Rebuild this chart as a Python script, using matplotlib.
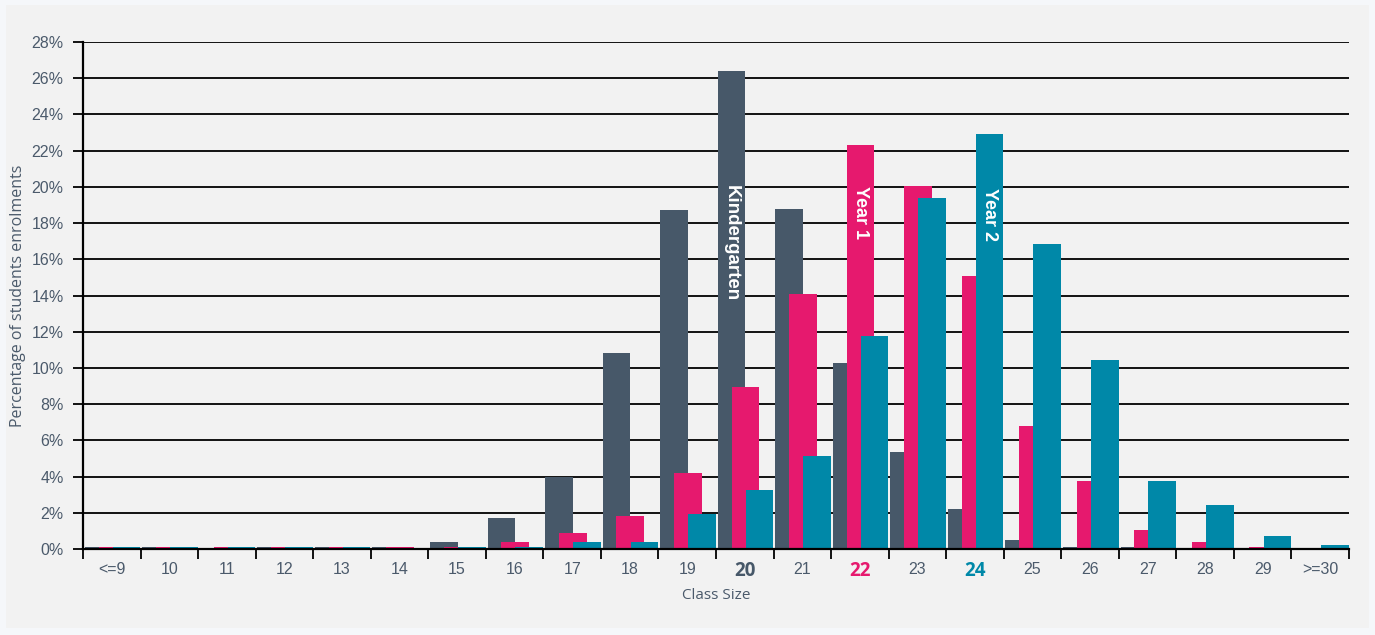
import numpy as np
import matplotlib.pyplot as plt
from matplotlib.patches import Rectangle

categories = ['<=9', '10', '11', '12', '13', '14', '15', '16', '17', '18', '19',
              '20', '21', '22', '23', '24', '25', '26', '27', '28', '29', '>=30']
kindergarten = [0.1, 0.1, 0.0, 0.1, 0.1, 0.1, 0.4, 1.73, 4.0, 10.83, 18.73,
                26.4, 18.78, 10.28, 5.34, 2.21, 0.5, 0.13, 0.1, 0.0, 0.0, 0.0]
year1 = [0.1, 0.1, 0.1, 0.1, 0.1, 0.1, 0.1, 0.4, 0.88, 1.84, 4.2,
         8.95, 14.09, 22.3, 20.06, 15.1, 6.78, 3.74, 1.07, 0.4, 0.1, 0.0]
year2 = [0.1, 0.1, 0.1, 0.1, 0.1, 0.0, 0.1, 0.1, 0.4, 0.4, 1.93,
         3.26, 5.16, 11.77, 19.39, 22.93, 16.85, 10.44, 3.74, 2.41, 0.7, 0.22]
yticks = list(range(0, 29, 2))

c_k = '#475869'
c_y1 = '#e6196e'
c_y2 = '#0088a8'
txt = '#4b5a6b'

W, H = 1375, 635
fig = plt.figure(figsize=(W / 100, H / 100), dpi=100)
fig.patch.set_facecolor('#f5f7fa')
fig.patches.append(Rectangle((6 / W, 1 - 628 / H), 1363 / W, 623 / H,
                             transform=fig.transFigure, facecolor='#f2f2f2',
                             edgecolor='none', zorder=-10))

ax = fig.add_axes([83 / W, 1 - 549 / H, 1266 / W, 507 / H])
ax.set_facecolor('none')

x = np.arange(len(categories))
bw = 0.48
ax.bar(x - 0.23, kindergarten, bw, color=c_k, zorder=3)
ax.bar(x + 0.01, year1, bw, color=c_y1, zorder=4)
ax.bar(x + 0.255, year2, bw, color=c_y2, zorder=5)

ax.set_xlim(-0.5, len(categories) - 0.5)
ax.set_ylim(0, 28)

# gridlines
ax.set_yticks(yticks)
ax.set_yticklabels([f'{v}%' for v in yticks], fontsize=11.5, color=txt,
                   family='Liberation Sans')
ax.yaxis.grid(True, color='black', linewidth=1.3, zorder=1)
ax.set_axisbelow(True)
ax.tick_params(axis='y', length=7, width=1.3, color='black', pad=7)

# x ticks at boundaries, labels at centres
ax.set_xticks(np.arange(-0.5, len(categories), 1.0))
ax.set_xticklabels([])
ax.set_xticks(x, minor=True)
ax.set_xticklabels(categories, minor=True, fontsize=11.5, color=txt,
                   family='Liberation Sans')
ax.tick_params(axis='x', which='major', length=7, width=1.3, color='black')
ax.tick_params(axis='x', which='minor', length=0, pad=9)

bold = {'20': c_k, '22': c_y1, '24': c_y2}
for lab in ax.get_xticklabels(minor=True):
    if lab.get_text() in bold:
        lab.set_color(bold[lab.get_text()])
        lab.set_fontweight('bold')
        lab.set_fontsize(13.5)
        lab.set_family('Open Sans')

for s in ['top', 'right']:
    ax.spines[s].set_visible(False)
for s in ['left', 'bottom']:
    ax.spines[s].set_color('black')
    ax.spines[s].set_linewidth(1.6)
    ax.spines[s].set_zorder(6)

ax.set_xlabel('Class Size', fontsize=11, color=txt, family='Open Sans',
              labelpad=5)
ax.set_ylabel('Percentage of students enrolments', fontsize=11.5, color=txt,
              family='Open Sans', labelpad=4)

# series names written inside the tallest bars
ax.text(11 - 0.23, 16.9, 'Kindergarten', rotation=-90, ha='center',
        va='center', color='white', fontsize=13.5, fontweight='bold',
        family='Liberation Sans', zorder=7)
ax.text(13 + 0.01, 18.6, 'Year 1', rotation=-90, ha='center', va='center',
        color='white', fontsize=13, fontweight='bold',
        family='Liberation Sans', zorder=7)
ax.text(15 + 0.255, 18.5, 'Year 2', rotation=-90, ha='center', va='center',
        color='white', fontsize=13, fontweight='bold',
        family='Liberation Sans', zorder=7)

plt.savefig('out.png', dpi=100, facecolor=fig.get_facecolor())
